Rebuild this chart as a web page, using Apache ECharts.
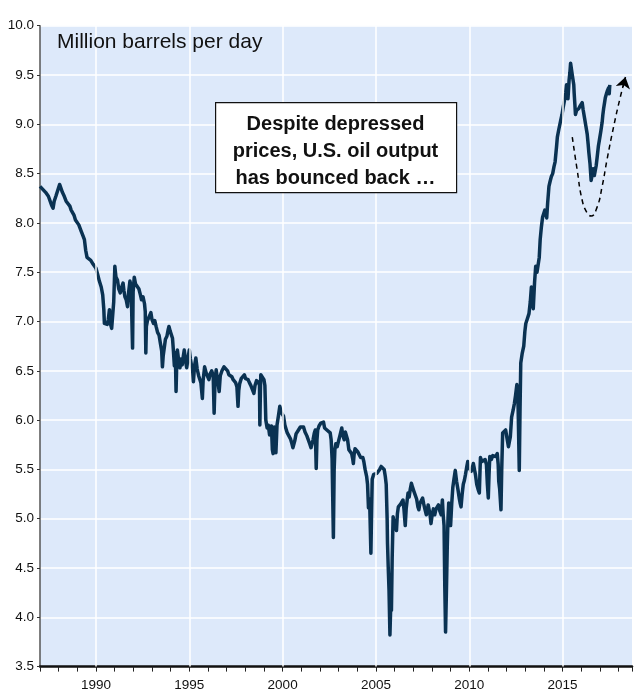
<!DOCTYPE html>
<html>
<head>
<meta charset="utf-8">
<script src="https://cdn.jsdelivr.net/npm/echarts@6/dist/echarts.min.js"></script>
<style>
html,body{margin:0;padding:0;background:#fff;}
#chart{width:635px;height:696px;}
</style>
</head>
<body>
<div id="chart"></div>
<script>
// US crude oil output, million barrels per day: [year, value]
const production = [
[1987.00,8.37],[1987.08,8.39],[1987.15,8.34],[1987.22,8.36],[1987.30,8.31],[1987.38,8.30],[1987.45,8.27],[1987.55,8.25],
[1987.62,8.18],[1987.70,8.15],[1987.76,8.22],[1987.85,8.27],[1987.95,8.29],[1988.05,8.39],[1988.10,8.37],[1988.20,8.31],
[1988.30,8.27],[1988.40,8.22],[1988.50,8.20],[1988.60,8.17],[1988.67,8.13],[1988.75,8.15],[1988.82,8.08],[1988.90,8.03],
[1989.00,8.03],[1989.08,7.98],[1989.20,7.92],[1989.30,7.87],[1989.38,7.83],[1989.45,7.72],[1989.52,7.65],[1989.62,7.65],
[1989.72,7.62],[1989.85,7.58],[1990.00,7.54],[1990.10,7.47],[1990.18,7.41],[1990.28,7.35],[1990.36,7.27],[1990.42,7.12],
[1990.45,6.98],[1990.52,7.00],[1990.60,6.97],[1990.66,7.02],[1990.72,7.12],[1990.77,6.98],[1990.84,6.93],[1990.89,6.91],
[1990.95,7.20],[1991.01,7.56],[1991.07,7.45],[1991.15,7.42],[1991.22,7.33],[1991.30,7.29],[1991.38,7.35],[1991.45,7.39],
[1991.50,7.31],[1991.55,7.25],[1991.62,7.22],[1991.69,7.15],[1991.75,7.30],[1991.82,7.41],[1991.88,7.36],[1991.93,7.38],
[1991.96,6.73],[1991.99,7.30],[1992.05,7.45],[1992.12,7.38],[1992.20,7.36],[1992.30,7.33],[1992.38,7.27],[1992.44,7.22],
[1992.52,7.25],[1992.60,7.18],[1992.64,7.10],[1992.67,6.68],[1992.70,6.95],[1992.76,7.01],[1992.85,7.05],[1992.94,7.09],
[1993.00,7.02],[1993.08,6.98],[1993.15,7.01],[1993.22,6.95],[1993.30,6.89],[1993.38,6.86],[1993.45,6.78],[1993.52,6.70],
[1993.56,6.54],[1993.60,6.65],[1993.65,6.72],[1993.72,6.82],[1993.80,6.85],[1993.87,6.92],[1993.91,6.95],[1993.98,6.90],
[1994.05,6.88],[1994.10,6.83],[1994.15,6.70],[1994.20,6.55],[1994.25,6.68],[1994.29,6.29],[1994.33,6.60],[1994.36,6.71],
[1994.42,6.62],[1994.50,6.53],[1994.55,6.62],[1994.62,6.56],[1994.68,6.65],[1994.73,6.71],[1994.80,6.60],[1994.86,6.53],
[1994.90,6.51],[1994.95,6.65],[1995.00,6.71],[1995.06,6.62],[1995.12,6.55],[1995.18,6.50],[1995.22,6.39],[1995.28,6.55],
[1995.35,6.63],[1995.42,6.52],[1995.50,6.45],[1995.55,6.43],[1995.62,6.38],[1995.66,6.30],[1995.70,6.22],[1995.74,6.40],
[1995.82,6.54],[1995.90,6.48],[1995.97,6.50],[1996.05,6.41],[1996.12,6.47],[1996.20,6.50],[1996.28,6.45],[1996.33,6.07],
[1996.38,6.40],[1996.44,6.51],[1996.50,6.42],[1996.56,6.35],[1996.60,6.29],[1996.66,6.45],[1996.75,6.50],[1996.86,6.54],
[1996.95,6.52],[1997.05,6.50],[1997.12,6.46],[1997.20,6.48],[1997.28,6.44],[1997.35,6.41],[1997.40,6.39],[1997.48,6.38],
[1997.55,6.34],[1997.61,6.14],[1997.65,6.30],[1997.70,6.37],[1997.78,6.42],[1997.86,6.44],[1997.95,6.46],[1998.02,6.42],
[1998.10,6.44],[1998.15,6.41],[1998.22,6.38],[1998.30,6.35],[1998.38,6.33],[1998.46,6.27],[1998.52,6.35],[1998.60,6.40],
[1998.67,6.42],[1998.72,6.38],[1998.76,6.35],[1998.78,5.95],[1998.81,6.30],[1998.83,6.46],[1998.90,6.44],[1999.00,6.41],
[1999.05,6.35],[1999.10,6.00],[1999.17,5.92],[1999.23,5.95],[1999.30,5.85],[1999.35,5.87],[1999.40,5.94],[1999.45,5.70],
[1999.49,5.66],[1999.52,5.85],[1999.55,5.93],[1999.60,5.80],[1999.64,5.67],[1999.70,5.95],[1999.78,6.05],[1999.85,6.14],
[1999.92,6.08],[2000.00,6.06],[2000.05,6.04],[2000.12,5.95],[2000.20,5.90],[2000.25,5.87],[2000.32,5.85],[2000.42,5.81],
[2000.50,5.76],[2000.55,5.72],[2000.59,5.70],[2000.65,5.79],[2000.72,5.86],[2000.77,5.87],[2000.85,5.90],[2000.95,5.93],
[2001.05,5.95],[2001.12,5.93],[2001.20,5.88],[2001.30,5.84],[2001.38,5.82],[2001.45,5.76],[2001.52,5.72],[2001.57,5.70],
[2001.63,5.80],[2001.70,5.87],[2001.75,5.90],[2001.80,5.51],[2001.84,5.80],[2001.88,5.90],[2001.95,5.94],[2002.05,5.97],
[2002.12,5.99],[2002.19,5.98],[2002.25,5.92],[2002.32,5.93],[2002.37,5.90],[2002.45,5.88],[2002.55,5.87],[2002.60,5.80],
[2002.65,5.61],[2002.72,4.81],[2002.76,5.49],[2002.80,5.70],[2002.85,5.76],[2002.92,5.73],[2003.00,5.71],[2003.08,5.85],
[2003.17,5.92],[2003.22,5.85],[2003.30,5.80],[2003.36,5.88],[2003.43,5.90],[2003.48,5.80],[2003.55,5.70],[2003.62,5.72],
[2003.70,5.66],[2003.76,5.60],[2003.79,5.56],[2003.83,5.65],[2003.88,5.71],[2003.95,5.70],[2004.02,5.68],[2004.10,5.66],
[2004.18,5.62],[2004.25,5.60],[2004.30,5.62],[2004.35,5.58],[2004.42,5.50],[2004.50,5.43],[2004.55,5.35],[2004.60,5.11],
[2004.66,5.20],[2004.73,4.65],[2004.77,5.10],[2004.80,5.40],[2004.88,5.45],[2004.96,5.47],[2005.05,5.46],[2005.12,5.48],
[2005.20,5.50],[2005.28,5.53],[2005.38,5.55],[2005.44,5.50],[2005.50,5.43],[2005.55,5.35],[2005.60,5.00],[2005.62,4.75],
[2005.66,4.50],[2005.70,4.28],[2005.75,3.82],[2005.79,4.10],[2005.83,4.07],[2005.87,4.60],[2005.92,5.02],[2005.98,4.95],
[2006.05,4.92],[2006.10,4.88],[2006.15,5.05],[2006.20,5.12],[2006.27,5.10],[2006.33,5.15],[2006.40,5.17],[2006.45,5.19],
[2006.50,5.10],[2006.57,4.93],[2006.62,5.10],[2006.68,5.20],[2006.72,5.26],[2006.78,5.22],[2006.84,5.30],[2006.90,5.36],
[2006.96,5.32],[2007.03,5.28],[2007.10,5.26],[2007.18,5.20],[2007.25,5.12],[2007.30,5.09],[2007.35,5.15],[2007.42,5.18],
[2007.50,5.21],[2007.56,5.15],[2007.62,5.10],[2007.70,5.04],[2007.75,5.08],[2007.80,5.14],[2007.85,5.12],[2007.90,5.04],
[2007.95,4.95],[2008.02,5.05],[2008.08,5.10],[2008.15,5.04],[2008.22,5.10],[2008.30,5.12],[2008.35,5.14],[2008.42,5.08],
[2008.50,5.04],[2008.56,5.19],[2008.60,5.05],[2008.65,4.93],[2008.69,4.30],[2008.73,3.85],[2008.77,4.20],[2008.82,4.70],
[2008.86,5.00],[2008.90,5.16],[2008.95,5.05],[2009.00,4.93],[2009.06,5.15],[2009.12,5.32],[2009.18,5.40],[2009.25,5.49],
[2009.32,5.38],[2009.40,5.29],[2009.47,5.20],[2009.52,5.15],[2009.56,5.12],[2009.62,5.25],[2009.68,5.35],[2009.74,5.39],
[2009.80,5.45],[2009.86,5.52],[2009.92,5.58],[2009.97,5.52],[2010.03,5.50],[2010.10,5.48],[2010.17,5.52],[2010.22,5.56],
[2010.28,5.55],[2010.33,5.45],[2010.40,5.35],[2010.47,5.30],[2010.54,5.26],[2010.57,5.45],[2010.60,5.62],[2010.68,5.58],
[2010.76,5.60],[2010.85,5.60],[2010.92,5.55],[2010.97,5.35],[2011.02,5.21],[2011.06,5.45],[2011.10,5.63],[2011.18,5.60],
[2011.26,5.64],[2011.34,5.65],[2011.42,5.63],[2011.50,5.66],[2011.55,5.55],[2011.58,5.38],[2011.63,5.30],[2011.70,5.09],
[2011.74,5.50],[2011.79,5.87],[2011.85,5.88],[2011.95,5.90],[2012.02,5.82],[2012.10,5.73],[2012.15,5.78],[2012.20,5.83],
[2012.27,6.03],[2012.35,6.10],[2012.42,6.17],[2012.48,6.25],[2012.55,6.36],[2012.60,6.25],[2012.62,6.11],[2012.68,5.49],
[2012.72,6.10],[2012.76,6.58],[2012.84,6.68],[2012.92,6.75],[2012.98,6.90],[2013.03,6.98],[2013.10,7.02],[2013.20,7.08],
[2013.27,7.20],[2013.33,7.35],[2013.38,7.25],[2013.43,7.13],[2013.50,7.40],[2013.56,7.56],[2013.63,7.50],[2013.70,7.48],
[2013.75,7.65],[2013.80,7.83],[2013.86,7.95],[2013.93,8.06],[2014.00,8.10],[2014.05,8.13],[2014.10,8.09],[2014.15,8.05],
[2014.20,8.20],[2014.27,8.37],[2014.33,8.42],[2014.40,8.47],[2014.47,8.50],[2014.54,8.57],[2014.60,8.62],[2014.63,8.64],
[2014.68,8.78],[2014.72,8.87],[2014.80,8.95],[2014.90,9.04],[2014.97,9.10],[2015.04,9.18],[2015.10,9.24],[2015.17,9.32],
[2015.21,9.40],[2015.25,9.34],[2015.29,9.26],[2015.35,9.45],[2015.39,9.52],[2015.43,9.62],[2015.48,9.60],[2015.52,9.50],
[2015.55,9.52],[2015.60,9.40],[2015.62,9.32],[2015.66,9.20],[2015.69,9.10],[2015.75,9.14],[2015.80,9.12],[2015.87,9.16],
[2015.95,9.19],[2016.05,9.22],[2016.10,9.15],[2016.18,9.06],[2016.25,8.98],[2016.32,8.90],[2016.37,8.80],[2016.41,8.71],
[2016.47,8.60],[2016.53,8.43],[2016.58,8.48],[2016.64,8.55],[2016.70,8.48],[2016.76,8.49],[2016.80,8.58],[2016.85,8.66],
[2016.92,8.78],[2016.99,8.86],[2017.05,8.93],[2017.12,9.02],[2017.16,9.10],[2017.20,9.16],[2017.25,9.22],[2017.29,9.27],
[2017.35,9.31],[2017.40,9.34],[2017.47,9.37],[2017.50,9.31],[2017.53,9.40]
];
// Dashed "bounce back" curve
const curveYears = [2015.52,2015.78,2016.05,2016.32,2016.53,2016.85,2017.12,2017.38,2017.74,2018.06,2018.30];
const curveValues = [8.87,8.54,8.23,8.10,8.07,8.16,8.37,8.64,8.98,9.25,9.43];
const arrowYears = [2018.24, 2018.37];
const arrowValues = [9.38, 9.48];
// Axes
const gridYears = [1990,1995,2000,2005,2010,2015];
const xMin = 1987, xMax = 2018.72;
const yMin = 3.5, yMax = 10.0, yStep = 0.5;

const chart = echarts.init(document.getElementById('chart'), null, {renderer: 'canvas'});
const font = 'Liberation Sans, Arial, sans-serif';
chart.setOption({
  animation: false,
  backgroundColor: '#ffffff',
  grid: {left: 40, right: 0, top: 25.7, bottom: 29.4, show: true, backgroundColor: '#dde9fa', borderWidth: 0},
  xAxis: {
    type: 'value', min: xMin, max: xMax, interval: 1,
    axisLine: {show: true, onZero: false, lineStyle: {color: '#111', width: 2.5}},
    axisTick: {show: true, length: 5, lineStyle: {color: '#222', width: 1}},
    axisLabel: {margin: 12, fontFamily: font, fontSize: 13.5, color: '#111',
      formatter: v => (Math.abs(v % 5) < 1e-6 ? String(Math.round(v)) : '')},
    splitLine: {show: false}
  },
  yAxis: {
    type: 'value', min: yMin, max: yMax, interval: yStep,
    axisLine: {show: true, lineStyle: {color: '#555', width: 1.5}},
    axisTick: {show: true, length: 3, lineStyle: {color: '#333'}},
    axisLabel: {margin: 6, fontFamily: font, fontSize: 13.5, color: '#111', formatter: v => v.toFixed(1)},
    splitLine: {show: true, lineStyle: {color: '#ffffff', width: 1.5}}
  },
  series: [
    {
      type: 'line', z: 1, data: [], silent: true,
      markLine: {silent: true, symbol: 'none', animation: false, label: {show: false},
        lineStyle: {color: '#ffffff', width: 1.5, type: 'solid'},
        emphasis: {disabled: true},
        data: gridYears.map(y => ({xAxis: y}))}
    },
    {
      type: 'line', z: 3, showSymbol: false, symbol: 'none',
      data: production,
      lineStyle: {color: '#0a3252', width: 3.5, join: 'round'}
    },
    {
      type: 'line', z: 4, showSymbol: false, symbol: 'none', smooth: 0.5,
      data: curveYears.map((x, i) => [x, curveValues[i]]),
      lineStyle: {color: '#000', width: 1.5, type: [5, 4]}
    },
    {
      type: 'lines', coordinateSystem: 'cartesian2d', z: 5,
      symbol: ['none', 'arrow'], symbolSize: 11,
      lineStyle: {color: '#000', width: 1.5, type: 'solid', opacity: 1},
      data: [{coords: arrowYears.map((x, i) => [x, arrowValues[i]])}]
    }
  ],
  graphic: [
    {type: 'text', left: 57, top: 32, z: 100,
      style: {text: 'Million barrels per day', font: '21px ' + font, fill: '#111'}},
    {type: 'rect', left: 215, top: 102, z: 100,
      shape: {x: 0, y: 0, width: 241, height: 90},
      style: {fill: '#ffffff', stroke: '#111', lineWidth: 1.2}},
    {type: 'text', x: 335.5, y: 151, z: 101,
      style: {text: 'Despite depressed\nprices, U.S. oil output\nhas bounced back …',
        font: 'bold 20px ' + font, fill: '#111', align: 'center', verticalAlign: 'middle', lineHeight: 27}}
  ]
});
</script>
</body>
</html>
